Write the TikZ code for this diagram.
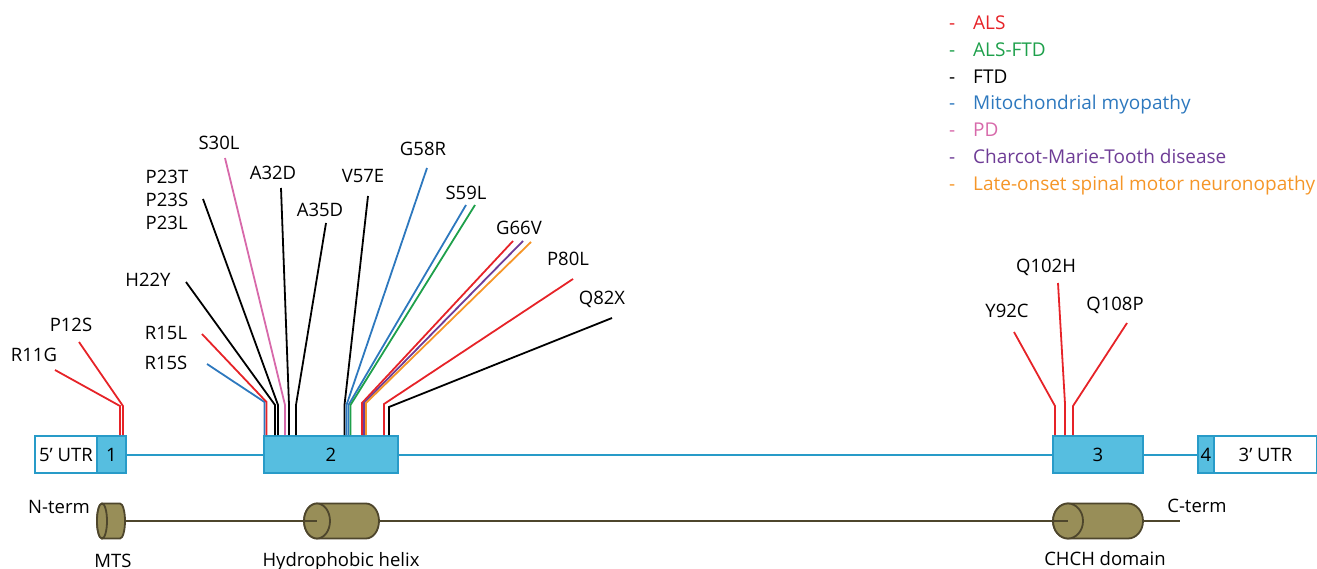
\documentclass[tikz,border=0pt]{standalone}
\usepackage{fontspec}
\setmainfont{Open Sans}
\usetikzlibrary{calc}
\definecolor{als}{RGB}{230,35,40}
\definecolor{alsftd}{RGB}{30,160,75}
\definecolor{mito}{RGB}{45,120,190}
\definecolor{pd}{RGB}{215,105,170}
\definecolor{cmt}{RGB}{110,60,150}
\definecolor{lsmn}{RGB}{245,150,40}
\definecolor{genefill}{RGB}{86,190,224}
\definecolor{geneline}{RGB}{40,155,200}
\definecolor{protfill}{RGB}{152,142,88}
\definecolor{protline}{RGB}{78,70,44}
\begin{document}
\begin{tikzpicture}[x=1pt,y=-1pt,inner sep=0pt,font=\fontsize{18.5}{23}\selectfont,
  exon/.style={draw=geneline,line width=2pt,fill=genefill,minimum height=37pt},
  utr/.style={exon,fill=white},
  protdomain/.style={draw=protline,line width=1.8pt,fill=protfill},
  mut/.style={line width=1.8pt}]
\useasboundingbox (0,0) rectangle (1317,569);

\node[utr,minimum width=62pt] (utr5) at (66,454.5) {5’ UTR};
\node[exon,minimum width=29pt] (ex1) at (111.5,454.5) {1};
\node[exon,minimum width=134pt] (ex2) at (331,454.5) {2};
\node[exon,minimum width=90pt] (ex3) at (1098,454.5) {3};
\node[exon,minimum width=16pt] (ex4) at (1206,454.5) {4};
\node[utr,minimum width=103pt] (utr3) at (1265.5,454.5) {3’ UTR};
\draw[geneline,line width=2pt] (ex1) -- (ex2) (ex2) -- (ex3) (ex3) -- (ex4);

\foreach \name/\l/\r/\rx in {mts/97/125/5, helix/304/379/13, chch/1053/1143/15} {
  \draw[protdomain] (\l+\rx,503.5) -- (\r-\rx,503.5) arc[start angle=-90,end angle=90,x radius=\rx,y radius=17.5]
    -- (\l+\rx,538.5) arc[start angle=90,end angle=270,x radius=\rx,y radius=17.5] -- cycle;
  \draw[protdomain] (\l+\rx,521) ellipse[x radius=\rx,y radius=17.5];
  \coordinate (\name) at (\l+\rx,521);
  \coordinate (\name-end) at (\r,521);
}
\coordinate (cend) at (1180,521);
\draw[protline,line width=1.8pt] (mts-end) -- (helix) (helix-end) -- (chch) (chch-end) -- (cend);
\node (nterm) at (59,507) {N-term};
\node (cterm) at (1197,506) {C-term};
\node[anchor=base] (mtslabel) at (113,567) {MTS};
\node[anchor=base] (helixlabel) at (341,566) {Hydrophobic helix};
\node[anchor=base] (chchlabel) at (1105,565) {CHCH domain};

\node (lr11g) at (34,355) {R11G};
\node (lp12s) at (71,325) {P12S};
\node (lr15l) at (166,333) {R15L};
\node (lr15s) at (166,363) {R15S};
\node (lh22y) at (148,280) {H22Y};
\node[align=left] (lp23) at (167,200) {P23T\\P23S\\P23L};
\node (ls30l) at (219,143) {S30L};
\node (la32d) at (273,173) {A32D};
\node (la35d) at (320,210) {A35D};
\node (lv57e) at (363,176) {V57E};
\node (lg58r) at (423,149) {G58R};
\node (ls59l) at (466,193) {S59L};
\node (lg66v) at (519,228) {G66V};
\node (lp80l) at (568,259) {P80L};
\node (lq82x) at (602,299) {Q82X};
\node (ly92c) at (1007,311) {Y92C};
\node (lq102h) at (1046,267) {Q102H};
\node (lq108p) at (1115,305) {Q108P};

\coordinate (r11g) at (55,370);
\coordinate (p12s) at (79,342);
\coordinate (r15s) at (207,364);
\coordinate (r15l) at (202,334);
\coordinate (h22y) at (186,282);
\coordinate (p23) at (203,199);
\coordinate (s30l) at (225,158);
\coordinate (a32d) at (281,188);
\coordinate (a35d) at (326,223);
\coordinate (v57e) at (368,196);
\coordinate (g58r) at (427,168);
\coordinate (s59l-a) at (466,205);
\coordinate (s59l-b) at (475,205);
\coordinate (g66v-a) at (513,241);
\coordinate (g66v-b) at (523,241);
\coordinate (g66v-c) at (531,242);
\coordinate (p80l) at (573,279);
\coordinate (q82x) at (612,318);
\coordinate (y92c) at (1014,332);
\coordinate (q102h) at (1058,283);
\coordinate (q108p) at (1127,323);

\foreach \ex/\dx/\up/\tip/\col in {ex1/24/29/r11g/als, ex1/27/29/p12s/als,
  ex2/1.5/33/r15s/mito, ex2/3.5/33/r15l/als, ex2/12/30/h22y/black, ex2/15/30/p23/black,
  ex2/22/30/s30l/pd, ex2/26/30/a32d/black, ex2/33/30/a35d/black, ex2/81.5/30/v57e/black,
  ex2/83.5/30/g58r/mito, ex2/85.5/30/s59l-a/mito, ex2/87.5/30/s59l-b/alsftd,
  ex2/99/32/g66v-a/als, ex2/101/32/g66v-b/cmt, ex2/103/32/g66v-c/lsmn,
  ex2/121/31/p80l/als, ex2/126/28/q82x/black,
  ex3/3/29/y92c/als, ex3/13/31/q102h/als, ex3/21/29/q108p/als}
  \draw[mut,\col] ([xshift=\dx pt]\ex.north west) -- ++(0,-\up) -- (\tip);

\foreach \col/\txt [count=\i] in {als/ALS, alsftd/ALS-FTD, black/FTD, mito/Mitochondrial myopathy,
  pd/PD, cmt/Charcot-Marie-Tooth disease, lsmn/Late-onset spinal motor neuronopathy} {
  \node[anchor=base west,text=\col,font=\fontsize{19}{23}\selectfont] (dash\i) at (949,2.7+26.8*\i) {-};
  \node[anchor=base west,text=\col,font=\fontsize{19}{23}\selectfont] (leg\i) at (973,2.7+26.8*\i) {\txt};
}
\end{tikzpicture}
\end{document}
